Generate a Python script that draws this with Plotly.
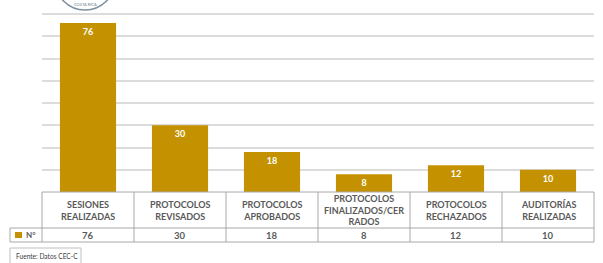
import plotly.graph_objects as go

categories = ["SESIONES<br>REALIZADAS", "PROTOCOLOS<br>REVISADOS", "PROTOCOLOS<br>APROBADOS",
              "PROTOCOLOS<br>FINALIZADOS/CER<br>RADOS", "PROTOCOLOS<br>RECHAZADOS", "AUDITORÍAS<br>REALIZADAS"]
values = [76, 30, 18, 8, 12, 10]
series_name = "N°"
source_text = "Fuente: Datos CEC-C"

W, H = 603, 263
ML, MR, MT, MB = 42, 9, 12, 71
PW, PH = W - ML - MR, H - MT - MB
BAR = "#C49200"
GRID = "#dcdcdc"
BORDER = "#a8a8a8"
TXT = "#595959"
FONT = "Lato"

def px(xpix):
    return (xpix - ML) / PW

def py(ypix):
    return (H - MB - ypix) / PH

x_idx = list(range(len(categories)))

fig = go.Figure()
fig.add_trace(go.Bar(
    x=x_idx, y=values, marker=dict(color=BAR, line=dict(width=0)),
    text=[str(v) for v in values], textposition="inside", insidetextanchor="end",
    textfont=dict(color="white", size=9, family=FONT), texttemplate="<b>%{text}</b>",
    constraintext="none", cliponaxis=False, showlegend=False, hoverinfo="skip",
))

n = len(categories)
shapes = []
annotations = []
y_top = py(192)
y_mid = py(228)
y_bot = py(242)
line = dict(color=BORDER, width=1)
shapes.append(dict(type="line", xref="paper", yref="paper", x0=0, x1=1, y0=y_top, y1=y_top, line=line))
shapes.append(dict(type="line", xref="paper", yref="paper", x0=px(10), x1=1, y0=y_mid, y1=y_mid, line=line))
shapes.append(dict(type="line", xref="paper", yref="paper", x0=px(10), x1=1, y0=y_bot, y1=y_bot, line=line))
shapes.append(dict(type="line", xref="paper", yref="paper", x0=px(10), x1=px(10), y0=y_mid, y1=y_bot, line=line))
for i in range(n + 1):
    xp = i / n
    shapes.append(dict(type="line", xref="paper", yref="paper", x0=xp, x1=xp, y0=y_top, y1=y_bot, line=line))

for i, (c, v) in enumerate(zip(categories, values)):
    annotations.append(dict(x=i, xref="x", y=(y_top + y_mid) / 2, yref="paper", text="<b>" + c + "</b>",
                            showarrow=False, font=dict(family=FONT, size=9, color=TXT),
                            xanchor="center", yanchor="middle"))
    annotations.append(dict(x=i, xref="x", y=(y_mid + y_bot) / 2, yref="paper", text="<b>" + str(v) + "</b>",
                            showarrow=False, font=dict(family=FONT, size=9.5, color=TXT),
                            xanchor="center", yanchor="middle"))

shapes.append(dict(type="rect", xref="paper", yref="paper", x0=px(15), x1=px(22), y0=py(238), y1=py(232),
                   fillcolor=BAR, line=dict(width=0)))
annotations.append(dict(x=px(24), xref="paper", y=(y_mid + y_bot) / 2, yref="paper", text="<b>" + series_name + "</b>",
                        showarrow=False, font=dict(family=FONT, size=8, color=TXT), xanchor="left", yanchor="middle"))

shapes.append(dict(type="rect", xref="paper", yref="paper", x0=px(10), x1=px(81), y0=py(270), y1=py(248),
                   line=dict(color="#c0c0c0", width=1), fillcolor="white"))
annotations.append(dict(x=px(14), xref="paper", y=py(256), yref="paper", text=source_text,
                        showarrow=False, font=dict(family=FONT, size=6.6, color="#404040"), xanchor="left", yanchor="middle"))

shapes.append(dict(type="circle", xref="paper", yref="paper", x0=px(55), x1=px(115), y0=py(10), y1=py(-50),
                   line=dict(color="#7f8f9c", width=1.5), fillcolor="white"))
annotations.append(dict(x=px(85), xref="paper", y=py(5), yref="paper", text="COSTA RICA",
                        showarrow=False, font=dict(family=FONT, size=4, color="#6f7f8c"), xanchor="center", yanchor="middle"))

fig.update_layout(
    width=W, height=H, margin=dict(l=ML, r=MR, t=MT, b=MB),
    paper_bgcolor="white", plot_bgcolor="white", hovermode=False,
    bargap=0.39, shapes=shapes, annotations=annotations,
    xaxis=dict(range=[-0.5, n - 0.5], showticklabels=False, showgrid=False, zeroline=False, ticks=""),
    yaxis=dict(range=[0, 80.9], dtick=10, showticklabels=False, showgrid=True, gridcolor=GRID, gridwidth=1.5,
               zeroline=False, ticks=""),
)
fig.write_html("out.html", config={"displayModeBar": False},
               post_script="document.body.style.margin='0';document.body.style.overflow='hidden';")
